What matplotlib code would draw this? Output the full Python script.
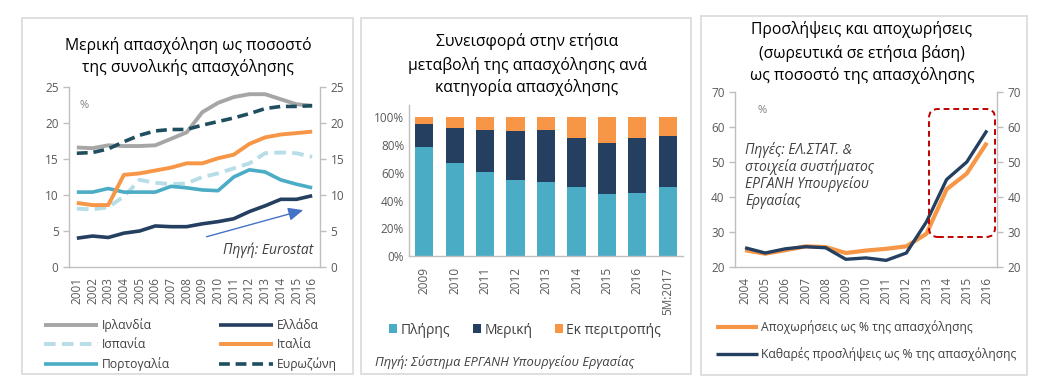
import matplotlib
matplotlib.use('Agg')
import matplotlib.pyplot as plt
from matplotlib.patches import Rectangle, FancyBboxPatch
from matplotlib.transforms import IdentityTransform

plt.rcParams['font.family'] = ['Open Sans', 'DejaVu Sans']

W, H = 1054, 385

# ---------------- data ----------------
years1 = list(range(2001, 2017))
ireland = [16.6, 16.5, 16.9, 16.8, 16.8, 16.9, 17.8, 18.7, 21.5, 22.8, 23.6, 24.0, 24.0, 23.3, 22.6, 22.4]
greece = [4.0, 4.3, 4.1, 4.7, 5.0, 5.7, 5.6, 5.6, 6.0, 6.3, 6.7, 7.7, 8.5, 9.4, 9.4, 9.9]
spain = [8.1, 8.0, 8.3, 9.8, 12.1, 11.7, 11.5, 11.6, 12.5, 13.0, 13.7, 14.4, 15.8, 15.9, 15.8, 15.3]
italy = [8.9, 8.6, 8.6, 12.8, 13.0, 13.4, 13.8, 14.4, 14.4, 15.1, 15.6, 17.1, 18.0, 18.4, 18.6, 18.8]
portugal = [10.4, 10.4, 10.9, 10.4, 10.4, 10.4, 11.2, 11.0, 10.7, 10.6, 12.5, 13.5, 13.2, 12.1, 11.5, 11.0]
eurozone = [15.8, 15.9, 16.4, 17.4, 18.3, 18.9, 19.1, 19.1, 19.7, 20.2, 20.7, 21.3, 22.0, 22.3, 22.3, 22.4]

bar_cats = ['2009', '2010', '2011', '2012', '2013', '2014', '2015', '2016', '5M:2017']
full_time = [78.8, 66.8, 60.6, 54.8, 53.4, 49.5, 44.5, 45.4, 49.7]
part_time = [16.4, 25.7, 30.2, 35.3, 37.2, 35.6, 37.0, 39.7, 36.8]
rotation = [4.8, 7.5, 9.2, 9.9, 9.4, 14.9, 18.5, 14.9, 13.5]

years3 = list(range(2004, 2017))
departures = [24.8, 23.8, 24.8, 25.9, 25.7, 24.0, 24.7, 25.2, 25.9, 29.5, 42.2, 46.7, 55.5]
net_hires = [25.5, 24.0, 25.2, 25.8, 25.5, 22.2, 22.6, 21.9, 24.0, 32.9, 45.0, 50.0, 59.0]

# ---------------- colours ----------------
C_GRAY = '#A6A6A6'
C_NAVY = '#243F60'
C_LBLUE = '#B7DEE8'
C_ORANGE = '#F79646'
C_TEAL = '#4BACC6'
C_DTEAL = '#1F4E5F'
C_AXIS = '#BFBFBF'
C_TXT = '#404040'
C_TICK = '#595959'
TITLE_FS = 11.3

fig = plt.figure(figsize=(W / 100, H / 100), dpi=100)


def fx(x):
    return x / W


def fy(y):
    return 1 - y / H


def add_ax(x0, y0, x1, y1):
    # pixel box (top-down y) -> figure axes
    return fig.add_axes([fx(x0), fy(y1), fx(x1 - x0), (y1 - y0) / H])


def title(x, lines, ys):
    for txt, yy in zip(lines, ys):
        fig.text(fx(x), fy(yy), txt, ha='center', va='center',
                 fontsize=TITLE_FS, color='#000000')


# panel frames
for x0, y0, x1, y1 in [(22, 18, 353, 374), (361, 18, 691, 374), (701, 16, 1027, 375)]:
    fig.add_artist(Rectangle((fx(x0), fy(y1)), fx(x1 - x0), (y1 - y0) / H,
                             transform=fig.transFigure, facecolor='none',
                             edgecolor='#D9D9D9', linewidth=1.2))


def style_axes(ax, ticks_out=True):
    ax.spines['top'].set_visible(False)
    for s in ['left', 'right', 'bottom']:
        ax.spines[s].set_color(C_AXIS)
        ax.spines[s].set_linewidth(1.0)
    ax.tick_params(axis='both', colors=C_AXIS, labelcolor=C_TICK, labelsize=8.5,
                   length=4 if ticks_out else 0, width=1.0)


# ---------------- chart 1 ----------------
title(188, ['Μερική απασχόληση ως ποσοστό', 'της συνολικής απασχόλησης'], [45, 67])

ax1 = add_ax(69, 87, 320, 267)
style_axes(ax1)
series1 = [
    ('Ιρλανδία', ireland, C_GRAY, '-', 2.8),
    ('Ισπανία', spain, C_LBLUE, (0, (3, 1.6)), 2.8),
    ('Πορτογαλία', portugal, C_TEAL, '-', 2.6),
    ('Ελλάδα', greece, C_NAVY, '-', 2.6),
    ('Ιταλία', italy, C_ORANGE, '-', 2.8),
    ('Ευρωζώνη', eurozone, C_DTEAL, (0, (3, 1.6)), 2.6),
]
handles1 = []
for name, vals, c, ls, lw in series1:
    ln, = ax1.plot(years1, vals, color=c, linestyle=ls, linewidth=lw,
                   solid_capstyle='butt', dash_capstyle='butt', label=name)
    handles1.append(ln)
ax1.set_xlim(2000.5, 2016.5)
ax1.set_ylim(0, 25)
ax1.set_yticks([0, 5, 10, 15, 20, 25])
ax1.set_xticks(years1)
ax1.set_xticklabels([str(y) for y in years1], rotation=90)
ax1.tick_params(axis='x', length=0, pad=7)
ax1.spines['right'].set_visible(False)
ax1r = ax1.twinx()
ax1r.set_ylim(0, 25)
ax1r.set_yticks([0, 5, 10, 15, 20, 25])
style_axes(ax1r)
ax1r.spines['left'].set_visible(False)
ax1r.spines['bottom'].set_visible(False)
ax1.text(2001.2, 22.5, '%', color='#808080', fontsize=8, ha='left', va='center')
ax1.text(2016.1, 2.3, 'Πηγή: Eurostat', style='italic', color=C_TXT, fontsize=10,
         ha='right', va='center')
ax1.annotate('', xy=(2015.6, 8.0), xytext=(2009.1, 4.1),
             arrowprops=dict(arrowstyle='-|>,head_length=0.9,head_width=0.4',
                             color='#4472C4', lw=1.0))
ax1.legend(handles1, [h.get_label() for h in handles1], ncol=2,
           loc='upper left', bbox_to_anchor=(fx(44), fy(318)),
           bbox_transform=fig.transFigure, frameon=False, fontsize=8.7,
           handlelength=4.5, handletextpad=0.3, columnspacing=4.0,
           labelspacing=0.5, labelcolor=C_TXT, borderaxespad=0, borderpad=0)

# ---------------- chart 2 ----------------
title(527, ['Συνεισφορά στην ετήσια', 'μεταβολή της απασχόλησης ανά',
            'κατηγορία απασχόλησης'], [42, 65, 87])

ax2 = add_ax(409, 105, 683, 256)
style_axes(ax2, ticks_out=False)
ax2.spines['right'].set_visible(False)
xpos = list(range(len(bar_cats)))
bottom2 = [a + b for a, b in zip(full_time, part_time)]
b1 = ax2.bar(xpos, full_time, width=0.6, color=C_TEAL)
b2 = ax2.bar(xpos, part_time, width=0.6, bottom=full_time, color=C_NAVY)
b3 = ax2.bar(xpos, rotation, width=0.6, bottom=bottom2, color=C_ORANGE)
ax2.set_xlim(-0.5, len(bar_cats) - 0.5)
ax2.set_ylim(0, 108.9)
ax2.set_yticks([0, 20, 40, 60, 80, 100])
ax2.set_yticklabels(['0%', '20%', '40%', '60%', '80%', '100%'])
ax2.set_xticks(xpos)
ax2.set_xticklabels(bar_cats, rotation=90)
ax2.tick_params(axis='x', pad=8)
ax2.legend([b1, b2, b3], ['Πλήρης', 'Μερική', 'Εκ περιτροπής'], ncol=3,
           loc='center left', bbox_to_anchor=(fx(389), fy(330)),
           bbox_transform=fig.transFigure, frameon=False, fontsize=10,
           handlelength=0.6, handleheight=0.6, handletextpad=0.25,
           columnspacing=1.6, labelcolor=C_TXT, borderaxespad=0, borderpad=0)
fig.text(fx(375), fy(362), 'Πηγή: Σύστημα ΕΡΓΑΝΗ Υπουργείου Εργασίας', style='italic',
         ha='left', va='center', fontsize=9.3, color=C_TXT)

# ---------------- chart 3 ----------------
title(862, ['Προσλήψεις και αποχωρήσεις', '(σωρευτικά σε ετήσια βάση)',
            'ως ποσοστό της απασχόλησης'], [30, 53, 75])

ax3 = add_ax(735, 92, 997, 267)
style_axes(ax3)
ax3.spines['right'].set_visible(False)
l_dep, = ax3.plot(years3, departures, color=C_ORANGE, linewidth=3.0,
                  solid_capstyle='butt', label='Αποχωρήσεις ως % της απασχόλησης')
l_net, = ax3.plot(years3, net_hires, color=C_NAVY, linewidth=2.4,
                  solid_capstyle='butt', label='Καθαρές προσλήψεις ως % της απασχόλησης')
ax3.set_xlim(2003.5, 2016.5)
ax3.set_ylim(20, 70)
ax3.set_yticks(range(20, 71, 10))
ax3.set_xticks(years3)
ax3.set_xticklabels([str(y) for y in years3], rotation=90)
ax3.tick_params(axis='x', length=0, pad=7)
ax3r = ax3.twinx()
ax3r.set_ylim(20, 70)
ax3r.set_yticks(range(20, 71, 10))
style_axes(ax3r)
ax3r.spines['left'].set_visible(False)
ax3r.spines['bottom'].set_visible(False)
ax3.text(2004.6, 64.8, '%', color='#808080', fontsize=8, ha='left', va='center')
for txt, yy in [('Πηγές: ΕΛ.ΣΤΑΤ. &', 150), ('στοιχεία συστήματος', 167),
                ('ΕΡΓΑΝΗ Υπουργείου', 184), ('Εργασίας', 201)]:
    fig.text(fx(745), fy(yy), txt, style='italic', ha='left', va='center',
             fontsize=10, color=C_TXT)
fig.add_artist(FancyBboxPatch((929, H - 237), 66, 128,
                              boxstyle='round,pad=0,rounding_size=9',
                              transform=IdentityTransform(), facecolor='none',
                              edgecolor='#C00000', linewidth=1.4, linestyle=(0, (3, 2))))
ax3.legend([l_dep, l_net], [l_dep.get_label(), l_net.get_label()], ncol=1,
           loc='upper left', bbox_to_anchor=(fx(716), fy(320)),
           bbox_transform=fig.transFigure, frameon=False, fontsize=8.7,
           handlelength=3.5, handletextpad=0.2, labelspacing=1.1,
           labelcolor=C_TXT, borderaxespad=0, borderpad=0)

fig.savefig('out.png', dpi=100)
